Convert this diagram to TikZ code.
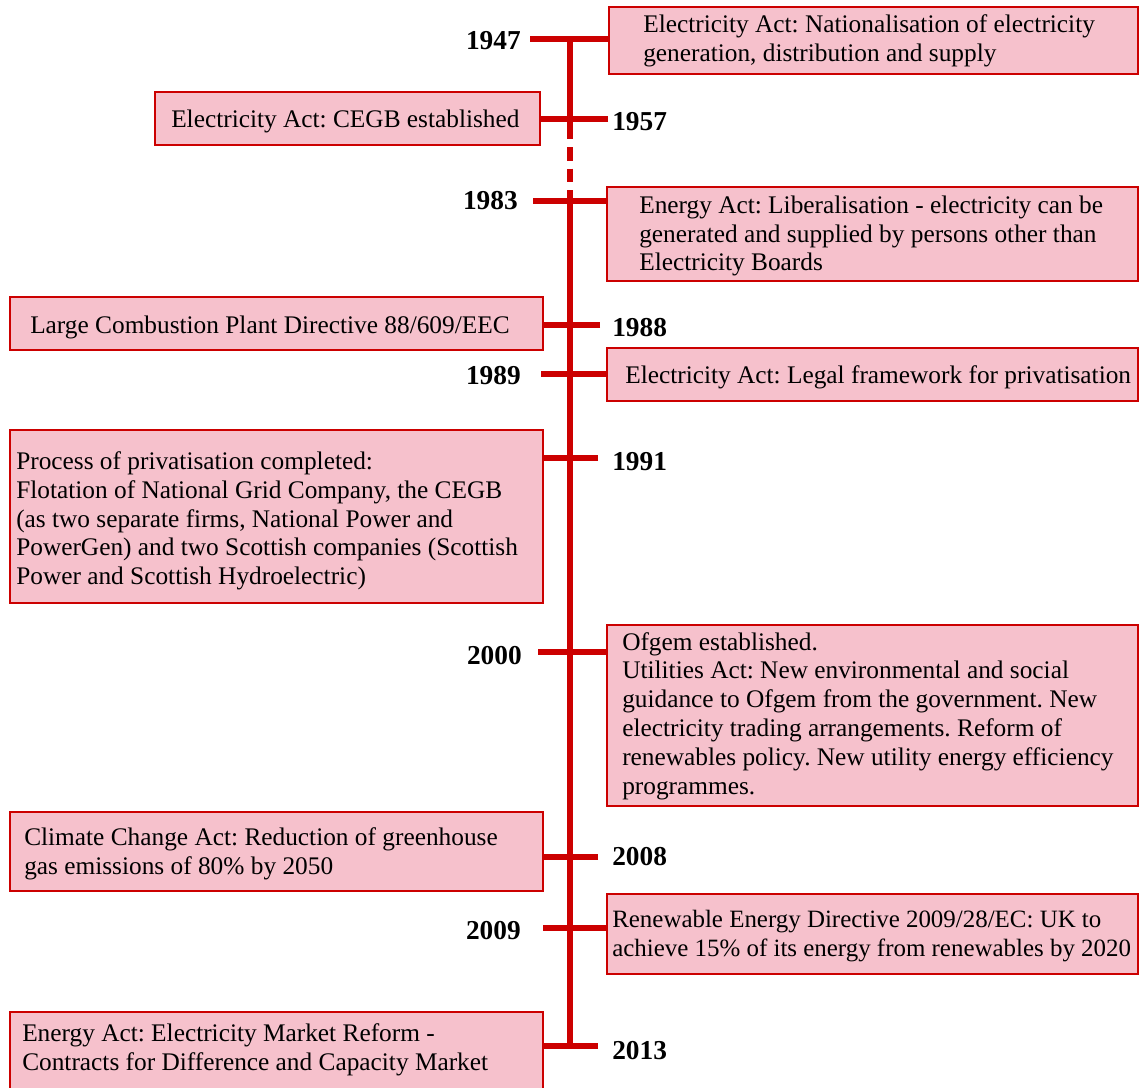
\documentclass[tikz,border=0pt]{standalone}
\usepackage{fontspec}
\setmainfont{Liberation Serif}
\usetikzlibrary{fit}
\definecolor{lred}{RGB}{204,0,0}
\definecolor{lpink}{RGB}{246,193,204}
\frenchspacing
\begin{document}
\begin{tikzpicture}[x=0.75pt,y=-0.75pt,
 box/.style={draw=lred, fill=lpink, line width=2pt, inner sep=0pt},
 txt/.style={anchor=west, align=left, inner sep=0pt, font=\fontsize{19}{21.6}\selectfont},
 yrl/.style={anchor=east, inner sep=0pt, font=\fontsize{20.5}{22}\selectfont\bfseries},
 yrr/.style={anchor=west, inner sep=0pt, font=\fontsize{20.5}{22}\selectfont\bfseries},
 axisline/.style={draw=lred, line width=4.5pt},
 tick/.style={draw=lred, line width=4.5pt},
]
\useasboundingbox (0,0) rectangle (1139,1088);
\clip (0,0) rectangle (1139,1088);
% boxes
\node[box, fit={(609,7) (1138,74)}] (b1947) {};
\node[box, fit={(155,92) (540,145)}] (b1957) {};
\node[box, fit={(607,187) (1138,281)}] (b1983) {};
\node[box, fit={(10,297) (543,350)}] (b1988) {};
\node[box, fit={(607,348) (1138,401)}] (b1989) {};
\node[box, fit={(10,430) (543,603)}] (b1991) {};
\node[box, fit={(607,625) (1138,806)}] (b2000) {};
\node[box, fit={(10,812) (543,891)}] (b2008) {};
\node[box, fit={(607,894) (1138,974)}] (b2009) {};
\node[box, fit={(10,1012) (543,1110)}] (b2013) {};
% texts
\node[txt] (x1947) at (643,41) {Electricity Act: Nationalisation of electricity\\generation, distribution and supply};
\node[txt] (x1957) at (171,121) {Electricity Act: CEGB established};
\node[txt] (x1983) at (639,236) {Energy Act: Liberalisation - electricity can be\\generated and supplied by persons other than\\Electricity Boards};
\node[txt] (x1988) at (30,327) {Large Combustion Plant Directive 88/609/EEC};
\node[txt] (x1989) at (625,377) {Electricity Act: Legal framework for privatisation};
\node[txt] (x1991) at (16,521) {Process of privatisation completed:\\Flotation of National Grid Company, the CEGB\\(as two separate firms, National Power and\\PowerGen) and two Scottish companies (Scottish\\Power and Scottish Hydroelectric)};
\node[txt] (x2000) at (622,716) {Ofgem established.\\Utilities Act: New environmental and social\\guidance to Ofgem from the government. New\\electricity trading arrangements. Reform of\\renewables policy. New utility energy efficiency\\programmes.};
\node[txt] (x2008) at (24,854) {Climate Change Act: Reduction of greenhouse\\gas emissions of 80\% by 2050};
\node[txt, font=\fontsize{18.7}{21.6}\selectfont] (x2009) at (612,936) {Renewable Energy Directive 2009/28/EC: UK to\\achieve 15\% of its energy from renewables by 2020};
\node[txt] (x2013) at (22,1050) {Energy Act: Electricity Market Reform -\\Contracts for Difference and Capacity Market};
% years
\node[yrl] (y1947) at (521,41) {1947};
\node[yrr] (y1957) at (612,122) {1957};
\node[yrl] (y1983) at (518,201) {1983};
\node[yrr] (y1988) at (612,328) {1988};
\node[yrl] (y1989) at (521,376) {1989};
\node[yrr] (y1991) at (612,462) {1991};
\node[yrl] (y2000) at (522,656) {2000};
\node[yrr] (y2008) at (612,857) {2008};
\node[yrl] (y2009) at (521,931) {2009};
\node[yrr] (y2013) at (612,1051) {2013};
% axis
\coordinate (top) at (570,37);
\coordinate (dA) at (570,126);
\coordinate (dB) at (570,197);
\coordinate (bot) at (570,1048);
\draw[axisline] (top) -- (dA);
\draw[axisline, dash pattern=on 10pt off 6pt] (dA) -- (dB);
\draw[axisline] (dB) -- (bot);
% tick ends
\coordinate (t1947) at (530,39);
\coordinate (t1957) at (608,119);
\coordinate (t1983) at (533,201);
\coordinate (t1988) at (600,325);
\coordinate (t1989) at (541,374);
\coordinate (t1991) at (598,458);
\coordinate (t2000) at (538,652);
\coordinate (t2008) at (598,857);
\coordinate (t2009) at (543,928);
\coordinate (t2013) at (598,1046);
\draw[tick] (t1947) -- (t1947 -| b1947.west);
\draw[tick] (t1957) -- (t1957 -| b1957.east);
\draw[tick] (t1983) -- (t1983 -| b1983.west);
\draw[tick] (t1988) -- (t1988 -| b1988.east);
\draw[tick] (t1989) -- (t1989 -| b1989.west);
\draw[tick] (t1991) -- (t1991 -| b1991.east);
\draw[tick] (t2000) -- (t2000 -| b2000.west);
\draw[tick] (t2008) -- (t2008 -| b2008.east);
\draw[tick] (t2009) -- (t2009 -| b2009.west);
\draw[tick] (t2013) -- (t2013 -| b2013.east);
\end{tikzpicture}
\end{document}
